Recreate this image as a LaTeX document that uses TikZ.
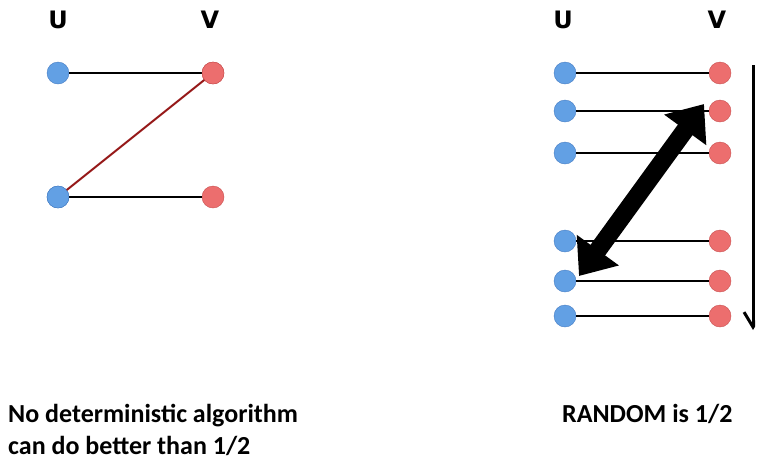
\documentclass[tikz,border=0pt]{standalone}
\usepackage{fontspec}
\setmainfont{Carlito}
\newfontfamily\labelfont{DejaVu Sans}
\usetikzlibrary{arrows.meta}
\definecolor{ublue}{RGB}{98,160,228}
\definecolor{ublueline}{RGB}{70,125,195}
\definecolor{vred}{RGB}{236,110,110}
\definecolor{vredline}{RGB}{200,80,80}
\definecolor{darkred}{RGB}{150,25,25}
\begin{document}
\begin{tikzpicture}
[x=1pt,y=-1pt,
unode/.style={circle,minimum size=22pt,inner sep=0pt,fill=ublue,draw=ublueline,thin},
vnode/.style={circle,minimum size=22pt,inner sep=0pt,fill=vred,draw=vredline,thin},
edge/.style={line width=2pt,black},
chosen/.style={line width=2pt,darkred},
side/.style={font=\labelfont\bfseries\fontsize{24}{28}\selectfont,anchor=base},
caption/.style={font=\bfseries\fontsize{26}{32}\selectfont,align=left,anchor=base west,inner sep=0pt}]

\useasboundingbox (0,0) rectangle (759,467);

%draw the left graph
\node[side] (lu) at (58,28) {U};
\node[side] (lv) at (210,28) {V};
\node[unode] (u1) at (58,73) {};
\node[unode] (u2) at (58,197) {};
\node[vnode] (v1) at (213,73) {};
\node[vnode] (v2) at (213,197) {};
\draw[edge] (u1) -- (v1);
\draw[edge] (u2) -- (v2);
\draw[chosen] (u2.center) -- (v1.center);
\node[unode] at (58,197) {};
\node[vnode] at (213,73) {};

%draw the right graph
\node[side] (ru) at (563,28) {U};
\node[side] (rv) at (717,28) {V};
\foreach \y [count=\i] in {73,111,153,241,281,316}
{
\node[unode] (a\i) at (565,\y) {};
\node[vnode] (b\i) at (720,\y) {};
\draw[edge] (a\i) -- (b\i);
}

%draw the big double arrow
\coordinate (atop) at (704,104);
\coordinate (abot) at (579,276);
\draw[line width=18pt,{Triangle[length=32pt,width=50pt]}-{Triangle[length=32pt,width=50pt]}] (abot) -- (atop);

%draw the ordering arrow (cut at the right edge)
\coordinate (otop) at (753,65);
\coordinate (obot) at (753,330);
\begin{scope}
\clip (0,0) rectangle (755,467);
\draw[line width=3pt,-{Straight Barb[length=15pt,width=18pt]}] (otop) -- (obot);
\end{scope}

%captions
\node[caption] (lcap) at (8,454) {No deterministic algorithm\\can do better than 1/2};
\node[caption] (rcap) at (562,422) {RANDOM is 1/2};

\end{tikzpicture}
\end{document}
